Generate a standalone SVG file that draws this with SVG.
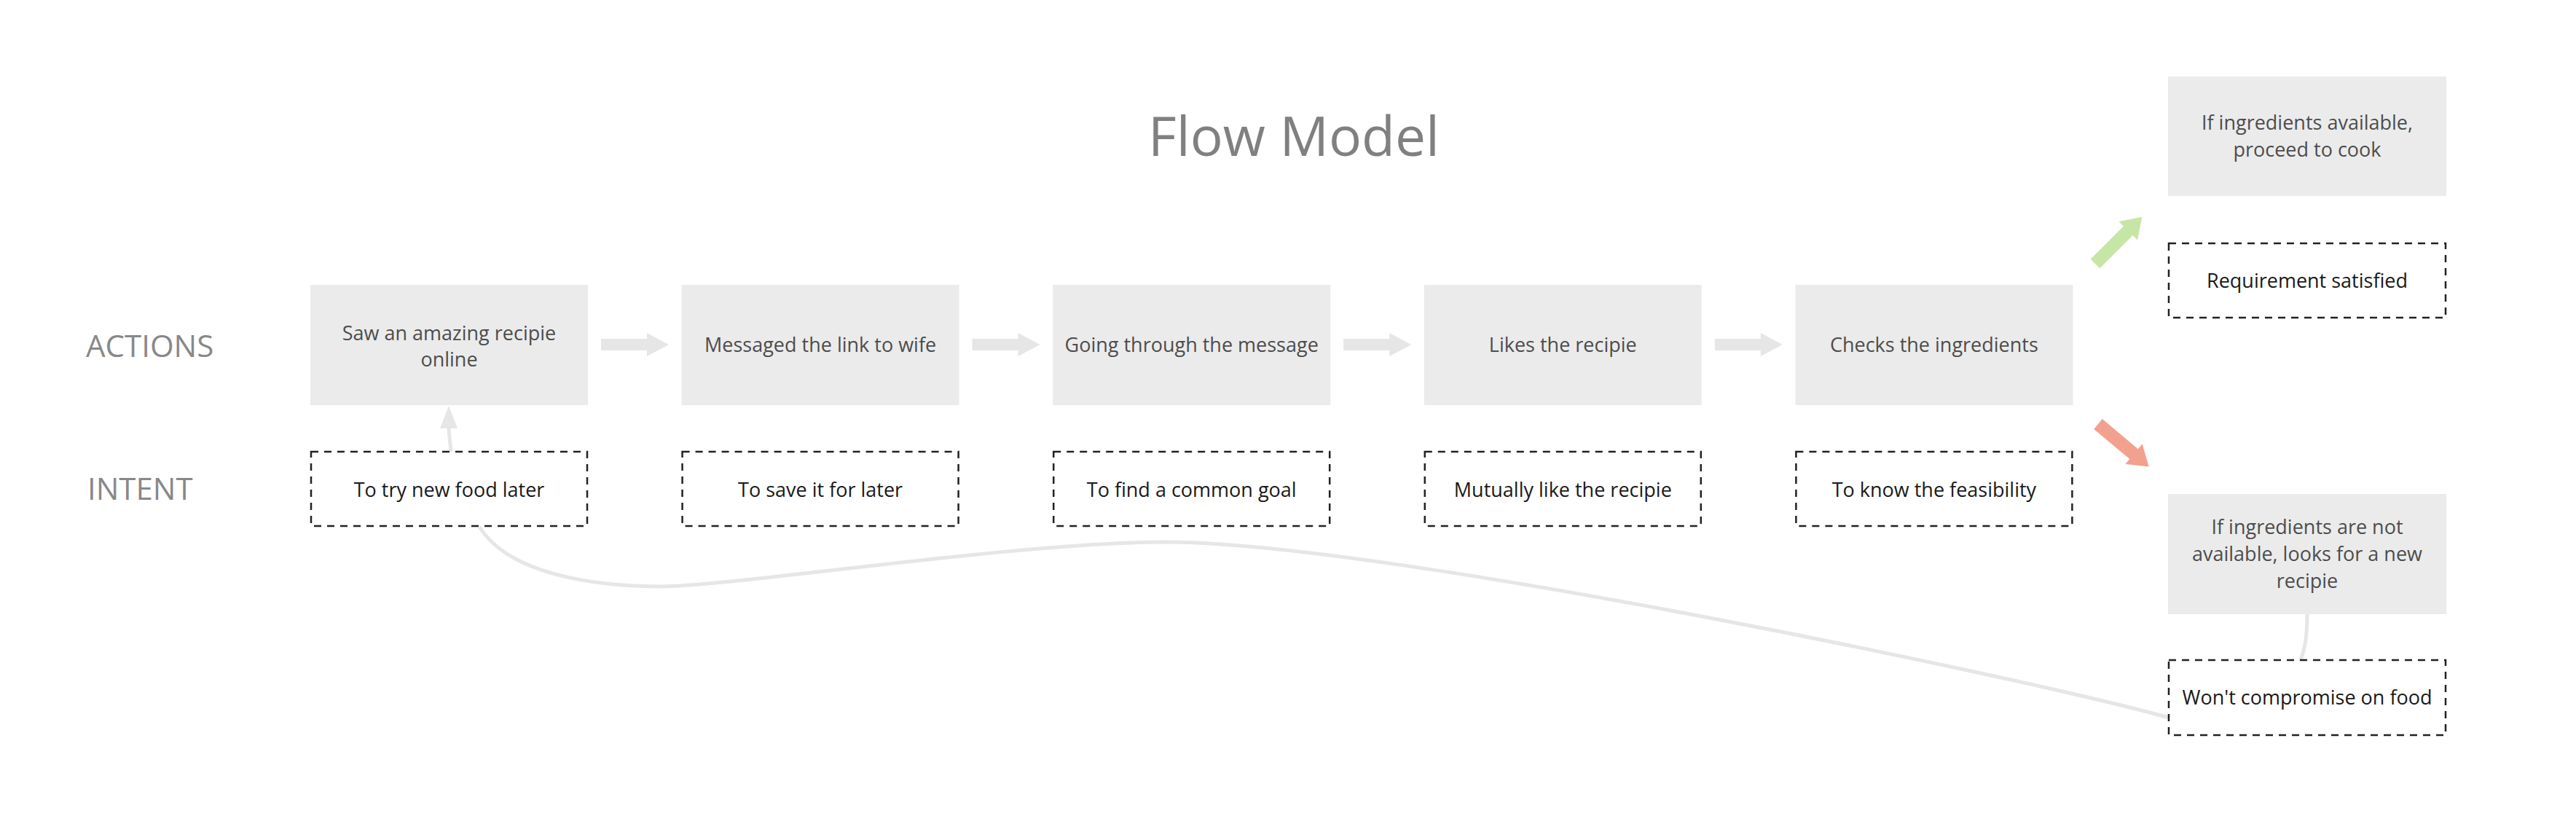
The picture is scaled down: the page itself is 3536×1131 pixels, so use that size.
<svg xmlns="http://www.w3.org/2000/svg" xmlns:xlink="http://www.w3.org/1999/xlink" width="3536" height="1131" viewBox="0 0 3536 1131">
<style>
text{font-family:"Open Sans","Liberation Sans",sans-serif;}
.title{font-size:75px;fill:#808080;text-anchor:middle;}
.lane{font-size:42px;fill:#888888;}
.act rect{fill:#ebebeb;}
.act text{font-size:27px;fill:#4d4d4d;text-anchor:middle;}
.int rect{fill:none;stroke:#222;stroke-width:2.5;stroke-dasharray:10 8;}
.int text{font-size:27px;fill:#1a1a1a;text-anchor:middle;}
.conn{fill:none;stroke:#e6e6e6;stroke-width:5;}
.garrow{fill:#e6e6e6;}
</style>
<defs>
<polygon id="blk" points="0,-8 63,-8 63,-16 93,0 63,16 63,8 0,8"/>
<polygon id="diag" points="0,-9 64,-9 64,-18 91,0 64,18 64,9 0,9"/>
</defs>
<rect width="3536" height="1131" fill="#ffffff"/>
<text class="title" x="1776" y="214">Flow Model</text>
<text class="lane" x="118" y="490">ACTIONS</text>
<text class="lane" x="120" y="686">INTENT</text>

<g id="connectors">
<path class="conn" d="M658,723 C700,790 820,805 910,805 S1400,744 1600,744 C1900,744 2800,935 2977,985"/>
<path class="conn" d="M619,620 C618,605 616,597 616,585"/>
<polygon class="garrow" points="616,557 628,588 604,588"/>
<path class="conn" d="M3167,843 C3167,880 3162,895 3158,906"/>
<use href="#blk" class="garrow" transform="translate(825,473)"/>
<use href="#blk" class="garrow" transform="translate(1334.6,473)"/>
<use href="#blk" class="garrow" transform="translate(1844.2,473)"/>
<use href="#blk" class="garrow" transform="translate(2353.8,473)"/>
<use href="#diag" fill="#c6e6a6" transform="translate(2876,362) rotate(-45)"/>
<use href="#diag" fill="#f2a18e" transform="translate(2880,582) rotate(40)"/>
</g>

<g id="action1" class="act"><rect x="426" y="391" width="381" height="165"/><text x="616.5" y="467">Saw an amazing recipie</text><text x="616.5" y="503">online</text></g>
<g id="action2" class="act"><rect x="935.6" y="391" width="381" height="165"/><text x="1126.1" y="483">Messaged the link to wife</text></g>
<g id="action3" class="act"><rect x="1445.2" y="391" width="381" height="165"/><text x="1635.7" y="483">Going through the message</text></g>
<g id="action4" class="act"><rect x="1954.8" y="391" width="381" height="165"/><text x="2145.3" y="483">Likes the recipie</text></g>
<g id="action5" class="act"><rect x="2464.4" y="391" width="381" height="165"/><text x="2654.9" y="483">Checks the ingredients</text></g>

<g id="intent1" class="int"><rect x="427" y="620" width="379" height="102"/><text x="616.5" y="682">To try new food later</text></g>
<g id="intent2" class="int"><rect x="936.6" y="620" width="379" height="102"/><text x="1126.1" y="682">To save it for later</text></g>
<g id="intent3" class="int"><rect x="1446.2" y="620" width="379" height="102"/><text x="1635.7" y="682">To find a common goal</text></g>
<g id="intent4" class="int"><rect x="1955.8" y="620" width="379" height="102"/><text x="2145.3" y="682">Mutually like the recipie</text></g>
<g id="intent5" class="int"><rect x="2465.4" y="620" width="379" height="102"/><text x="2654.9" y="682">To know the feasibility</text></g>

<g id="actionYes" class="act"><rect x="2976" y="105" width="382" height="164"/><text x="3167" y="178">If ingredients available,</text><text x="3167" y="215">proceed to cook</text></g>
<g id="intentYes" class="int"><rect x="2977" y="334" width="380" height="102"/><text x="3167" y="395">Requirement satisfied</text></g>
<g id="actionNo" class="act"><rect x="2976" y="678" width="382" height="165"/><text x="3167" y="733">If ingredients are not</text><text x="3167" y="770">available, looks for a new</text><text x="3167" y="807">recipie</text></g>
<g id="intentNo" class="int"><rect x="2977" y="906" width="380" height="103"/><text x="3167" y="967">Won't compromise on food</text></g>
</svg>
